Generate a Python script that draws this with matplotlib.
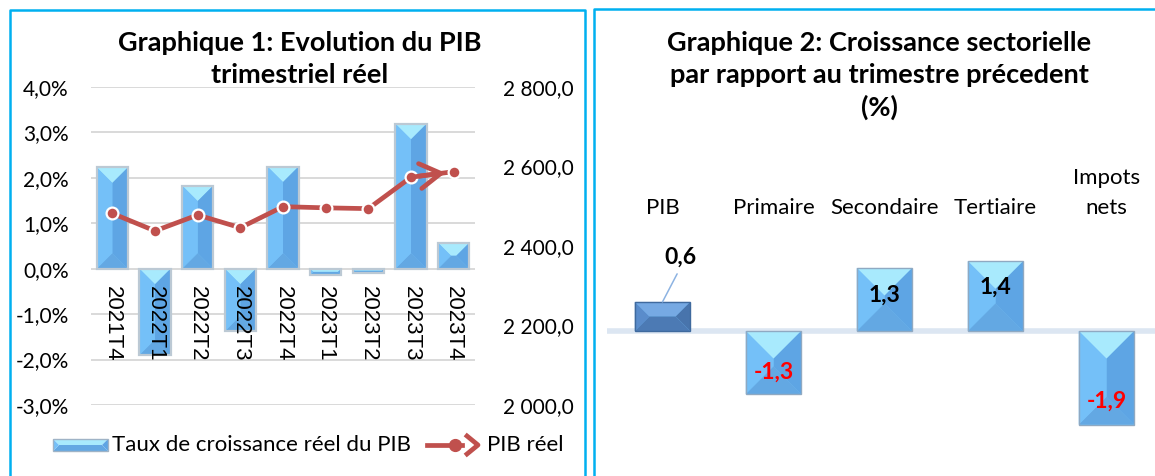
import matplotlib
matplotlib.use("Agg")
import matplotlib.pyplot as plt
from matplotlib.patches import Polygon, Rectangle
from matplotlib.lines import Line2D
import numpy as np

plt.rcParams['font.family'] = ['Lato', 'DejaVu Sans']

# --- donnees graphique 1
trimestres = ["2021T4", "2022T1", "2022T2", "2022T3", "2022T4",
              "2023T1", "2023T2", "2023T3", "2023T4"]
taux_croissance = [2.23, -1.90, 1.83, -1.38, 2.25, -0.14, -0.09, 3.19, 0.57]
pib_reel = [2482, 2438, 2478, 2446, 2499, 2496, 2494, 2573, 2587]

# --- donnees graphique 2
secteurs = ["PIB", "Primaire", "Secondaire", "Tertiaire", "Impots\nnets"]
croissance_sect = [0.6, -1.3, 1.3, 1.44, -1.93]
pos_etiquette = [None, 0.65, 0.57, 0.63, 0.75]

W, H = 1155, 476
fig = plt.figure(figsize=(W / 100, H / 100), dpi=100)


def fx(x):
    return x / W


def fy(y):
    return 1 - y / H


NORMAL = dict(top='#A8EAFD', left='#74C0F8', right='#5EA5E4', bottom='#63A8E3')
FONCE = dict(top='#76A9E3', left='#5A8CCB', right='#4874AC', bottom='#4C7AB4')


def bevel(target, trans, x0, y0, w, h, cols, edge, lw=1.0, z=3):
    # facettes type "pyramide" calculees en pixels puis ramenees dans le repere
    (L, B), (R, T) = trans.transform([(x0, y0), (x0 + w, y0 + h)])
    L, R = min(L, R), max(L, R)
    B, T = min(B, T), max(B, T)
    d = min(R - L, T - B) / 2
    il, ir, it, ib = L + d, R - d, T - d, B + d
    facets = {
        'top': [(L, T), (R, T), (ir, it), (il, it)],
        'right': [(R, T), (R, B), (ir, ib), (ir, it)],
        'bottom': [(R, B), (L, B), (il, ib), (ir, ib)],
        'left': [(L, B), (L, T), (il, it), (il, ib)],
    }
    inv = trans.inverted()
    for k, pts in facets.items():
        p = Polygon(inv.transform(pts), closed=True, facecolor=cols[k],
                    edgecolor='none', transform=trans, zorder=z)
        target.add_artist(p) if target is fig else target.add_patch(p)
    r = Rectangle((x0, y0), w, h, facecolor='none', edgecolor=edge,
                  linewidth=lw, transform=trans, zorder=z + 0.1)
    target.add_artist(r) if target is fig else target.add_patch(r)


# ================= Graphique 1 =================
ax = fig.add_axes([fx(91), fy(405), fx(475) - fx(91), fy(87) - fy(405)])
ax2 = ax.twinx()
x = np.arange(len(trimestres))

ax.set_xlim(-0.5, len(trimestres) - 0.5)
ax.set_ylim(-3, 4)
ax.set_yticks(np.arange(-3, 5, 1))
ax.set_yticklabels([f"{v:.1f}%".replace('.', ',') for v in np.arange(-3, 5, 1)])
ax.yaxis.grid(True, color='#D9D9D9', lw=1.4)
ax.set_axisbelow(True)
ax.set_xticks([])
ax.tick_params(axis='y', length=0, pad=16, labelsize=15)
for s in ax.spines.values():
    s.set_visible(False)

barres = ax.bar(x, taux_croissance, width=0.73, color=NORMAL['left'], edgecolor='none', zorder=2)
for b in barres:
    bevel(ax, ax.transData, b.get_x(), b.get_y(), b.get_width(), b.get_height(),
          NORMAL, '#BCC9D4', lw=1.6)

for i, t in enumerate(trimestres):
    ax.annotate(t, xy=(i, 0), xytext=(0, -17), textcoords='offset pixels',
                rotation=270, ha='center', va='top', fontsize=16,
                family=['Liberation Sans', 'DejaVu Sans'], zorder=6)

ax2.set_ylim(2000, 2800)
ax2.set_yticks(np.arange(2000, 2801, 200))
ax2.set_yticklabels([f"{v:,.1f}".replace(',', ' ').replace('.', ',') for v in np.arange(2000, 2801, 200)])
ax2.tick_params(axis='y', length=0, pad=20, labelsize=15)
for s in ax2.spines.values():
    s.set_visible(False)

rouge = '#C0504D'
ax2.plot(x, pib_reel, color=rouge, lw=3.4, marker='o', markersize=8.5,
         markerfacecolor=rouge, markeredgecolor='white', markeredgewidth=1.6,
         solid_capstyle='round', zorder=5)
ax2.annotate('', xy=(x[-1], pib_reel[-1]), xytext=(x[-2], pib_reel[-2]),
             arrowprops=dict(arrowstyle='->,head_length=0.75,head_width=0.45',
                             color=rouge, lw=3.4, shrinkA=0, shrinkB=6,
                             mutation_scale=20), zorder=5)

fig.text(fx(300), fy(59), "Graphique 1: Evolution du PIB\ntrimestriel réel",
         ha='center', va='center', fontsize=19.5, fontweight='bold', linespacing=1.38)

# legende
bevel(fig, fig.transFigure, fx(53), fy(451), fx(108) - fx(53), fy(439) - fy(451),
      NORMAL, '#9FB3C6', lw=1.0)
fig.text(fx(112), fy(445), "Taux de croissance réel du PIB", ha='left', va='center', fontsize=16)
fig.add_artist(Line2D([fx(427), fx(462)], [fy(445), fy(445)], color=rouge, lw=3.4,
                      transform=fig.transFigure))
fig.add_artist(Line2D([fx(455)], [fy(445)], marker='o', markersize=8.5, color=rouge,
                      transform=fig.transFigure))
fig.add_artist(Line2D([fx(467), fx(478), fx(467)], [fy(436), fy(445), fy(454)],
                      color=rouge, lw=3.4, transform=fig.transFigure))
fig.text(fx(487), fy(445), "PIB réel", ha='left', va='center', fontsize=16)

# ================= Graphique 2 =================
px_unit = 48.5
base = 331
top_px, bot_px = 150, 450
bx = fig.add_axes([fx(607), fy(bot_px), fx(1162) - fx(607), fy(top_px) - fy(bot_px)])
bx.set_xlim(-0.5, len(secteurs) - 0.5)
bx.set_ylim(-(bot_px - base) / px_unit, (base - top_px) / px_unit)
bx.axis('off')
bx.axhline(0, color='#DCE6F2', lw=4, zorder=1)

xs = np.arange(len(secteurs))
barres2 = bx.bar(xs, croissance_sect, width=0.5, color=NORMAL['left'], edgecolor='none', zorder=2)
for i, b in enumerate(barres2):
    cols = FONCE if i == 0 else NORMAL
    edge = '#3F6A9E' if i == 0 else '#8FA9C2'
    bevel(bx, bx.transData, b.get_x(), b.get_y(), b.get_width(), b.get_height(),
          cols, edge, lw=1.0)

for i, (s, v) in enumerate(zip(secteurs, croissance_sect)):
    bx.text(i, (bot_px - 218) / (bot_px - top_px), s, transform=bx.get_xaxis_transform(),
            ha='center', va='bottom', fontsize=16, linespacing=1.6)
    lab = f"{v:.1f}".replace('.', ',')
    col = 'black' if v >= 0 else '#FF0000'
    if pos_etiquette[i] is None:
        bx.annotate(lab, xy=(i, v), xytext=(18, 45), textcoords='offset pixels',
                    ha='center', va='center', fontsize=16.5, fontweight='bold', color=col,
                    arrowprops=dict(arrowstyle='-', color='#8DB3E2', lw=1.1,
                                    shrinkA=3, shrinkB=0, relpos=(0.5, 0)), zorder=6)
    else:
        bx.text(i, v * pos_etiquette[i], lab, ha='center', va='center', fontsize=16.5,
                fontweight='bold', color=col, zorder=6)

fig.text(fx(879), fy(75.5), "Graphique 2: Croissance sectorielle\npar rapport au trimestre précedent\n(%)",
         ha='center', va='center', fontsize=19.5, fontweight='bold', linespacing=1.38)

# cadres
bleu = '#00B0F0'
for xs_, ys_ in [([10, 10, 585, 585], [476, 9.5, 9.5, 476]),
                 ([594, 594, 1155], [476, 9, 9])]:
    fig.add_artist(Line2D([fx(v) for v in xs_], [fy(v) for v in ys_], color=bleu,
                          lw=1.8, transform=fig.transFigure))

fig.savefig("out.png", dpi=100)
